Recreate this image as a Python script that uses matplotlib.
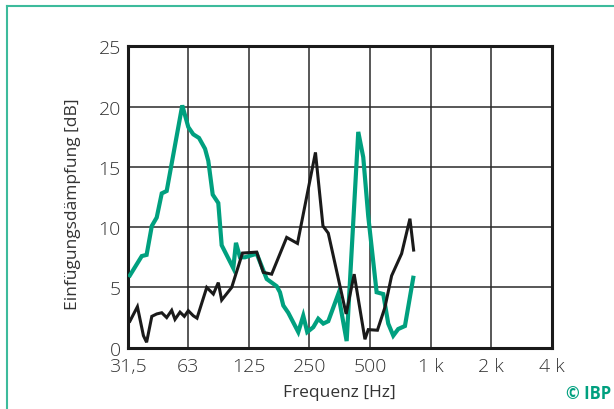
import numpy as np
import matplotlib
matplotlib.use("Agg")
import matplotlib.pyplot as plt
from matplotlib.lines import Line2D

plt.rcParams['font.family'] = ['Open Sans', 'DejaVu Sans']
plt.rcParams['font.weight'] = 'light'

# green curve
f_green = [32.3, 37.0, 39.1, 41.5, 43.9, 46.5, 49.2, 58.8, 63.0, 66.7, 71.2, 76.3,
           79.2, 83.3, 88.8, 92.3, 105.4, 108.7, 113.8, 120.5, 137.8, 154.5, 173.2,
           179.8, 186.8, 197.7, 221.7, 234.7, 245.7, 263.2, 278.6, 295.2, 312.5,
           350.3, 385.6, 440.4, 466.3, 493.7, 543.4, 586.2, 620.6, 657.3, 695.8,
           751.3, 826.2]
db_green = [6.0, 7.6, 7.7, 10.1, 10.8, 12.8, 13.0, 20.1, 18.3, 17.7, 17.4, 16.5,
            15.5, 12.7, 12.0, 8.5, 6.6, 8.7, 7.5, 7.5, 7.8, 5.7, 5.1,
            4.6, 3.5, 2.9, 1.3, 2.65, 1.3, 1.7, 2.4, 2.0, 2.2,
            4.45, 0.55, 17.9, 15.8, 10.9, 4.6, 4.45, 2.0, 1.0, 1.55,
            1.8, 5.8]

# black curve
f_black = [32.3, 35.2, 37.7, 39.1, 41.5, 43.9, 46.5, 49.2, 52.1, 54.1, 57.3, 60.2,
           63.0, 66.7, 69.6, 77.8, 83.9, 88.8, 92.3, 103.5, 117.1, 137.8, 148.6,
           163.5, 194.2, 219.7, 269.9, 294.1, 312.5, 383.4, 420.2, 475.4, 493.7,
           548.5, 597.6, 645.1, 723.2, 795.4, 829.7]
db_black = [2.2, 3.4, 1.0, 0.45, 2.6, 2.8, 2.9, 2.5, 3.1, 2.35, 2.95, 2.6,
            3.07, 2.65, 2.45, 5.0, 4.45, 5.4, 3.95, 5.0, 7.85, 7.93, 6.25,
            6.1, 9.15, 8.65, 16.2, 10.1, 9.5, 2.8, 6.1, 0.7, 1.5,
            1.45, 3.35, 5.97, 7.8, 10.7, 8.1]

tick_pos = [31.5 * 2 ** i for i in range(8)]
tick_labels = ['31,5', '63', '125', '250', '500', '1 k', '2 k', '4 k']

green = '#00a07f'
text_col = '#333333'

fig = plt.figure(figsize=(6.14, 4.10), dpi=100)
ax = fig.add_axes([0.208, 0.1495, 0.6907, 0.7351])

ax.plot(f_green, db_green, color=green, lw=3.0, solid_joinstyle='miter', zorder=3)
ax.plot(f_black, db_black, color='#1a1a1a', lw=2.2, solid_joinstyle='miter', zorder=4)

ax.set_xscale('log')
ax.set_xlim(tick_pos[0], tick_pos[-1])
ax.set_ylim(0, 25)
ax.set_xticks(tick_pos)
ax.set_xticklabels(tick_labels)
ax.xaxis.set_minor_locator(matplotlib.ticker.NullLocator())
ax.set_yticks([0, 5, 10, 15, 20, 25])
ax.tick_params(length=0, labelsize=14, colors=text_col)
ax.tick_params(axis='y', pad=5)
ax.tick_params(axis='x', pad=7)
ax.grid(True, color='#2a2a2a', lw=1.1)
ax.set_axisbelow(True)
for s in ax.spines.values():
    s.set_linewidth(2.2)
    s.set_color('#1a1a1a')

ax.set_xlabel('Frequenz [Hz]', fontsize=12.5, color=text_col, labelpad=6)
ax.set_ylabel('Einfügungsdämpfung [dB]', fontsize=12.5, color=text_col)
ax.yaxis.set_label_coords(-0.11, 0.48)

# frame lines and copyright
frame = '#3dbb9c'
fig.add_artist(Line2D([7 / 614, 1], [1 - 7 / 410] * 2, color=frame, lw=1.5))
fig.add_artist(Line2D([7 / 614] * 2, [0, 1 - 7 / 410], color=frame, lw=1.5))
fig.text(0.995, 0.018, '© IBP', color=green, fontsize=12, fontweight='bold',
         ha='right', va='bottom')

fig.savefig('out.png', dpi=100)
